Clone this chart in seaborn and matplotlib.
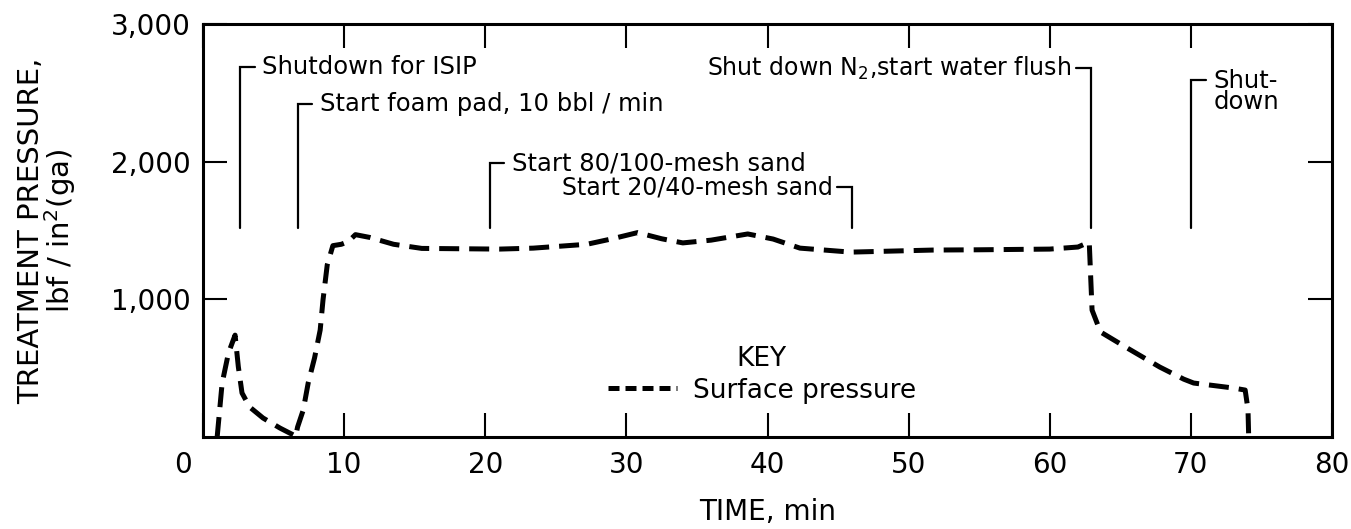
import numpy as np
import pandas as pd
import seaborn as sns
import matplotlib.pyplot as plt
from matplotlib.transforms import ScaledTranslation

# Surface pressure trace (time in min, pressure in lbf/in2)
time_min = [1.0, 1.35, 1.8, 2.27, 2.5, 2.76, 3.3, 4.25, 5.45, 6.4, 6.55,
            6.7, 7.1, 7.45, 7.9, 8.3, 8.5, 8.8, 9.2, 9.8, 10.3, 10.8,
            11.8, 13.5, 15.5, 21.0, 23.4, 27.2, 29.0, 30.8, 32.5, 34.0,
            36.0, 38.6, 40.4, 42.3, 45.9, 51.7, 55.0, 60.0, 62.0, 62.8,
            63.0, 63.6, 65.5, 67.8, 69.5, 70.2, 73.0, 73.85, 74.05, 74.1]
pressure = [0, 390, 610, 740, 510, 320, 218, 138, 65, 15, 0,
            73, 196, 392, 574, 777, 995, 1250, 1390, 1400, 1420, 1470,
            1450, 1400, 1370, 1365, 1372, 1400, 1440, 1485, 1440, 1410,
            1430, 1475, 1438, 1372, 1343, 1358, 1360, 1365, 1380, 1416,
            922, 763, 646, 508, 420, 392, 356, 341, 200, 0]

# Events marked on the chart
event_time = [2.6, 6.7, 20.3, 46.0, 62.9, 70.0]
event_label = ["Shutdown for ISIP",
               "Start foam pad, 10 bbl / min",
               "Start 80/100-mesh sand",
               "Start 20/40-mesh sand",
               "Shut down N$_2$,start water flush",
               "Shut-\ndown"]
# layout of the brackets: top height, side of the text
bracket_top = [2690, 2420, 1990, 1815, 2680, 2595]
bracket_side = ["right", "right", "right", "left", "left", "right"]
bracket_bottom = 1520

x_ticks = [0, 10, 20, 30, 40, 50, 60, 70, 80]
y_ticks = [1000, 2000, 3000]
y_tick_labels = ["1,000", "2,000", "3,000"]

sns.set_style("white")
plt.rcParams['font.family'] = ['DejaVu Sans']
plt.rcParams['text.color'] = 'black'
plt.rcParams['axes.labelcolor'] = 'black'
plt.rcParams['xtick.color'] = 'black'
plt.rcParams['ytick.color'] = 'black'

df = pd.DataFrame({"Time": time_min, "Pressure": pressure})

fig = plt.figure(figsize=(13.51, 5.29), dpi=100)
ax = fig.add_axes([0.1503, 0.1739, 0.8356, 0.7807])

sns.lineplot(data=df, x="Time", y="Pressure", sort=False, estimator=None,
             color="black", linewidth=3.6, label="Surface pressure", ax=ax)
ax.lines[0].set_dashes((4, 2))

# event brackets
for t, lab, top, side in zip(event_time, event_label, bracket_top, bracket_side):
    stub = 1.05 if side == "right" else -1.05
    ax.plot([t, t, t + stub], [bracket_bottom, top, top], color="black",
            linewidth=1.6, solid_joinstyle="miter")
    if side == "right" and "\n" in lab:
        ax.text(t + stub + 0.55, top + 80, lab, ha="left", va="top",
                fontsize=17.5, linespacing=0.85)
    elif side == "right":
        ax.text(t + stub + 0.55, top, lab, ha="left", va="center", fontsize=17.5)
    else:
        ax.text(t + stub - 0.35, top, lab, ha="right", va="center", fontsize=17)

ax.set_xlim(0, 80)
ax.set_ylim(0, 3000)
ax.set_xticks(x_ticks)
ax.set_xticklabels([str(v) for v in x_ticks])
ax.set_yticks(y_ticks)
ax.set_yticklabels(y_tick_labels)

ax.tick_params(axis="both", direction="in", top=True, right=True, bottom=True, left=True,
               length=17, width=1.5, labelsize=20, color="black")
ax.tick_params(axis="x", pad=10)
ax.tick_params(axis="y", pad=9)
for s in ax.spines.values():
    s.set_linewidth(2.2)
    s.set_color("black")

# corner zero sits left of the axis corner
zero_lab = ax.get_xticklabels()[0]
zero_lab.set_transform(zero_lab.get_transform() +
                       ScaledTranslation(-0.2, 0, fig.dpi_scale_trans))

ax.set_xlabel("TIME, min", fontsize=20)
ax.xaxis.set_label_coords(0.5, -0.148)
ax.xaxis.label.set_va("top")
ax.set_ylabel("TREATMENT PRESSURE,\nlbf / in$^2$(ga)", fontsize=21, linespacing=0.9)
ax.yaxis.set_label_coords(-0.111, 0.5)

leg = ax.legend(title="KEY", loc="center", bbox_to_anchor=(0.495, 0.15),
                frameon=False, fontsize=19, title_fontsize=19,
                handlelength=2.6, handletextpad=0.6, borderpad=0, labelspacing=0.2)
leg.get_lines()[0].set_dashes((2.2, 1.2))

fig.savefig("out.png", dpi=100)
